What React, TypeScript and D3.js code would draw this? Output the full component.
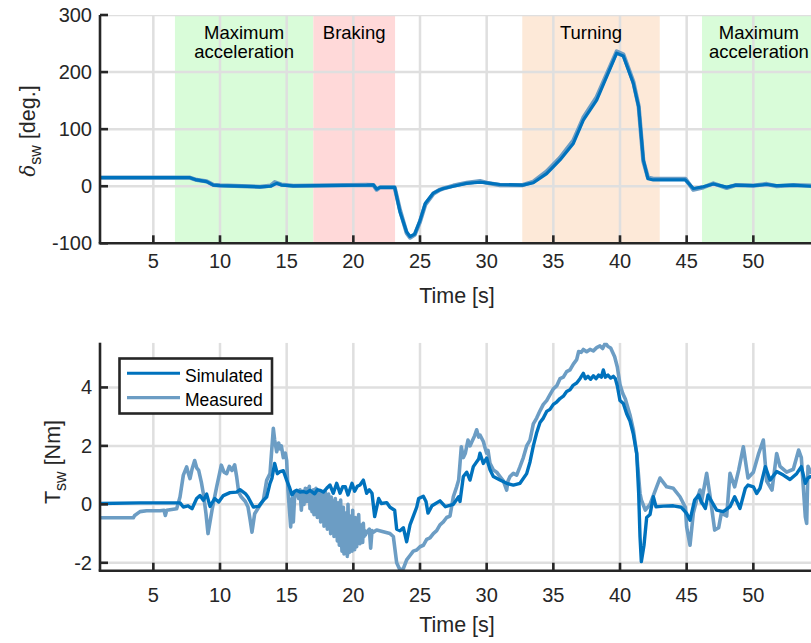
import React from 'react';
import * as d3 from 'd3';

// ---------- data ----------
const xTickValues = [5, 10, 15, 20, 25, 30, 35, 40, 45, 50];
const topYTickValues = [-100, 0, 100, 200, 300];
const botYTickValues = [-2, 0, 2, 4];

const phaseLabels = [['Maximum', 'acceleration'], ['Braking'], ['Turning'], ['Maximum', 'acceleration']];
const phaseStart = [6.62, 17.0, 32.67, 46.15];
const phaseEnd = [17.0, 23.13, 42.98, 54.7];

// Steering wheel angle [deg]
const angSimT = [1, 7.75, 8.25, 9, 9.5, 10, 13, 13.8, 14.25, 14.6, 15.5, 21, 21.5, 21.75, 22, 23.1, 23.5, 24, 24.25, 24.6, 25, 25.4, 26, 26.5, 26.75, 27.5, 28.5, 29.5, 30, 31, 32.7, 33.5, 34.5, 35.5, 36.5, 37.25, 38.25, 39, 39.75, 40.25, 41, 41.4, 41.75, 42.1, 42.5, 43.3, 44.9, 45.5, 46.25, 47, 48, 48.7, 50, 51, 51.75, 53, 54.3, 55];
const angSimV = [15, 15, 11, 8, 2, 1, -1, 0, 5, 2, 0.5, 2, 2.5, -5, -2, -2, -45, -80, -88, -84, -60, -30, -12, -6, -4, 0, 5, 7, 6, 3, 2, 6, 22, 46, 75, 116, 151, 192, 233, 228, 180, 139, 46, 13, 11, 11, 11, -4, -1, 4, -1.5, 2, 1, 3, 1, 2, 0, 0];
const angMeasT = [1, 7.75, 8.25, 9, 9.5, 10, 13, 13.8, 14.1, 14.6, 15.5, 21, 21.5, 21.75, 22, 23.1, 23.5, 24, 24.25, 24.6, 25, 25.4, 26, 26.5, 26.75, 27.5, 28.5, 29.5, 30, 31, 32.7, 33.5, 34.5, 35.5, 36.5, 37.25, 38.25, 39, 39.75, 40.25, 41, 41.4, 41.75, 42.1, 42.5, 43.3, 44.9, 45.5, 46.25, 47, 48, 48.7, 50, 51, 51.75, 53, 54.3, 55];
const angMeasV = [15, 15, 11, 8.5, 2.5, 1.5, -1, 1, 7, 3, 0.5, 2.5, 2, -6, -2, -2, -42, -82, -90, -85, -62, -32, -13, -6, -4, 1, 6, 9, 6, 2, 2, 8, 26, 50, 80, 120, 156, 196, 236, 231, 183, 140, 44, 15, 13, 13, 13, -6, -2, 5, -3, 2, 1, 4, 0, 2, 1, 1];

// Steering wheel torque [Nm] — simulated
const trqSimT = [1, 4, 7, 7.25, 7.6, 7.9, 8.25, 8.5, 8.75, 9, 9.25, 9.6, 9.9, 10.25, 10.75, 11.25, 11.5, 11.9, 12.1, 12.5, 12.9, 13.25, 13.5, 13.75, 13.9, 14.1, 14.3, 14.5, 14.75, 15, 15.2, 15.4, 15.6, 15.75, 16, 16.25, 16.5, 16.75, 17.1, 17.3, 17.5, 17.75, 18, 18.25, 18.5, 18.75, 19, 19.2, 19.4, 19.6, 19.9, 20.1, 20.3, 20.5, 20.75, 21, 21.2, 21.4, 21.6, 21.9, 22.1, 22.5, 22.75, 23.1, 23.25, 23.5, 23.75, 24, 24.25, 24.5, 24.75, 24.9, 25.25, 25.45, 25.6, 25.9, 26.5, 26.9, 27.5, 27.9, 28, 28.25, 28.5, 28.75, 29, 29.4, 29.5, 29.75, 30, 30.25, 30.5, 31, 31.5, 32, 32.5, 33, 33.25, 33.5, 33.75, 34, 34.25, 34.5, 34.75, 35, 35.25, 35.5, 35.75, 36, 36.25, 36.5, 36.75, 37, 37.25, 37.4, 37.6, 37.8, 38, 38.2, 38.4, 38.6, 38.75, 38.9, 39.1, 39.3, 39.5, 39.65, 39.8, 40, 40.25, 40.5, 40.75, 41, 41.25, 41.4, 41.5, 41.6, 41.8, 42, 42.25, 42.5, 42.7, 43.25, 44, 44.6, 45, 45.25, 45.6, 45.9, 46.1, 46.4, 46.6, 47.25, 47.75, 48.25, 48.6, 49, 49.4, 49.6, 50, 50.25, 50.5, 50.9, 51.25, 51.75, 52.25, 52.75, 53.25, 53.6, 53.9, 54.1, 54.3, 55];
const trqSimV = [0.03, 0.05, 0.05, -0.09, -0.05, -0.15, 0.2, 0.3, 0.14, 0.35, -0.07, 0.2, 0.08, 0.3, 0.4, 0.42, 0.5, 0.37, 0.25, -0.09, -0.07, 0.14, 0.25, 0.72, 0.9, 1.4, 1.05, 1.12, 1.15, 0.83, 0.6, 0.32, 0.45, 0.48, 0.42, 0.44, 0.4, 0.48, 0.36, 0.5, 0.48, 0.42, 0.55, 0.66, 0.38, 0.72, 0.38, 0.6, 0.6, 0.32, 0.72, 0.45, 0.62, 0.66, 0.83, 0.38, 0.5, 0.38, -0.42, 0.2, 0.03, 0.06, -0.1, -0.2, -0.85, -0.9, -0.8, -1.28, -0.7, -0.4, -0.1, 0.2, 0.28, 0.1, -0.3, -0.05, 0.12, -0.08, 0, 0.26, 0.1, 0.95, 1.1, 0.83, 1.29, 1.55, 1.75, 1.4, 1.58, 1.18, 0.95, 0.83, 0.72, 0.66, 0.72, 1.05, 1.45, 2.0, 2.45, 2.8, 2.95, 3.18, 3.25, 3.42, 3.5, 3.62, 3.7, 3.86, 3.92, 4.08, 4.15, 4.3, 4.48, 4.3, 4.38, 4.28, 4.4, 4.3, 4.42, 4.35, 4.6, 4.35, 4.42, 4.32, 4.38, 4.3, 4.05, 3.55, 3.45, 3.1, 2.85, 2.4, 1.75, 0.38, -1.1, -1.96, -1.4, -0.45, -0.35, 0.26, -0.08, -0.06, -0.05, -0.1, -0.31, -0.54, 0.15, 0.32, 0.09, -0.14, 0.32, -0.2, -0.25, -0.08, 0.26, -0.14, 0.55, 0.66, 0.6, 0.37, 0.55, 1.29, 0.83, 1.12, 1.0, 0.85, 1.05, 1.29, 0.72, 0.9, 0.95, 1.0];

// Steering wheel torque [Nm] — measured
const trqMeasT = [1, 3.5, 3.6, 4, 4.5, 5, 5.5, 5.8, 5.9, 6.0, 6.75, 7, 7.25, 7.5, 7.6, 7.75, 7.9, 8.1, 8.25, 8.4, 8.6, 8.75, 8.95, 9.1, 9.25, 9.4, 9.75, 10.1, 10.3, 10.5, 10.7, 10.9, 11.1, 11.25, 11.4, 11.6, 11.9, 12.1, 12.25, 12.4, 12.6, 12.9, 13.25, 13.5, 13.75, 14, 14.1, 14.25, 14.4, 14.5, 14.6, 14.75, 14.9, 15, 15.1, 15.3, 15.4, 15.5, 15.6, 15.75, 15.9, 16.0, 16.1, 16.2, 16.3, 16.4, 16.5,
  16.6, 16.65, 16.7, 16.75, 16.8, 16.85, 16.9, 16.95,
  17.0, 17.05, 17.1, 17.15, 17.2, 17.25, 17.3, 17.35, 17.4, 17.45, 17.5, 17.55, 17.6, 17.65, 17.7, 17.75, 17.8, 17.85, 17.9, 17.95,
  18.0, 18.05, 18.1, 18.15, 18.2, 18.25, 18.3, 18.35, 18.4, 18.45, 18.5, 18.55, 18.6, 18.65, 18.7, 18.75, 18.8, 18.85, 18.9, 18.95,
  19.0, 19.05, 19.1, 19.15, 19.2, 19.25, 19.3, 19.35, 19.4, 19.45, 19.5, 19.55, 19.6, 19.65, 19.7, 19.75, 19.8, 19.85, 19.9, 19.95,
  20.0, 20.05, 20.1, 20.15, 20.2, 20.25, 20.3, 20.35, 20.4, 20.45, 20.5, 20.55, 20.6, 20.65, 20.7, 20.75, 20.8, 20.85, 20.9,
  21.0, 21.2, 21.3, 21.4, 21.5, 21.75, 22.25, 22.75, 23, 23.25, 23.5, 23.75, 24, 24.25, 24.5, 24.75, 25, 25.25, 25.5, 25.75, 26, 26.25, 26.5, 26.75, 27, 27.25, 27.5, 27.75, 27.9, 28.1, 28.25, 28.4, 28.6, 28.75, 28.9, 29.1, 29.25, 29.4, 29.5, 29.75, 29.9, 30, 30.1, 30.25, 30.5, 30.75, 31, 31.25, 31.5, 31.6, 31.75, 32, 32.25, 32.5, 32.75, 33, 33.25, 33.5, 33.75, 34, 34.25, 34.5, 34.75, 35, 35.25, 35.5, 35.75, 36, 36.25, 36.5, 36.75, 36.9, 37.1, 37.25, 37.5, 37.75, 38, 38.25, 38.5, 38.7, 38.9, 39.1, 39.3, 39.6, 39.8, 40, 40.2, 40.4, 40.75, 41, 41.25, 41.5, 41.6, 41.9, 42.25, 42.75, 43, 43.5, 44, 44.5, 44.9, 45, 45.25, 45.5, 45.75, 46, 46.1, 46.5, 46.75, 47.1, 47.4, 47.6, 48, 48.25, 48.6, 48.9, 49.25, 49.6, 50, 50.4, 50.75, 51, 51.4, 51.75, 52, 52.5, 53, 53.4, 53.6, 53.9, 54, 54.1, 54.3, 55];
const trqMeasV = [-0.46, -0.46, -0.38, -0.25, -0.22, -0.22, -0.22, -0.2, -0.38, -0.2, -0.15, 0.25, 1.0, 1.28, 1.1, 0.88, 1.2, 1.5, 1.25, 1.16, 0.76, 0.37, -0.32, -1.0, -0.6, -0.2, 0.6, 1.34, 1.1, 1.05, 1.3, 1.16, 1.35, 0.94, 0.42, 0.25, 0.1, -0.09, -0.5, -0.95, -0.32, -0.1, 0.14, 0.82, 1.05, 2.6, 2.2, 1.8, 2.1, 1.9, 2.0, 1.6, 1.75, 1.5, 0.49, -0.77, 0.2, -0.6, 0.3, 0.45, 0.2, 0.5, -0.2, 0.45, 0.0, 0.55, 0.1,
  0.55, 0.1, 0.62, -0.15, 0.3, 0.45, -0.25, 0.2,
  0.5, -0.35, 0.35, 0.1, 0.55, -0.1, -0.45, 0.25, 0.45, -0.2, 0.05, -0.6, 0.4, 0.1, -0.3, 0.35, -0.75, -0.1, 0.45, -0.5,
  0.2, -0.85, 0.0, 0.35, -0.6, -0.2, -1.0, 0.25, -0.4, -0.85, 0.1, -1.1, -0.3, 0.2, -0.95, -0.5, -1.25, 0.05, -0.7, -1.4,
  -0.2, 0.15, -1.1, -1.6, -0.5, -0.1, -1.7, -1.0, -0.3, -1.5, -0.8, -1.78, 0.0, -1.2, -1.65, -0.4, -1.45, -0.9, -1.6, -0.2,
  -1.3, -0.7, -1.55, -0.45, -1.1, -1.45, -0.6, -1.25, -0.35, -1.05, -1.35, -0.7, -1.2, -0.9, -1.3, -0.65, -1.1, -0.9, -1.05,
  -0.95, -0.85, -1.5, -0.9, -0.95, -0.88, -0.94, -1.0, -1.1, -2.0, -2.25, -2.2, -1.9, -1.75, -1.6, -1.56, -1.45, -1.4, -1.2, -1.15, -1.0, -0.9, -0.7, -0.6, -0.45, -0.4, 0.26, 0.6, 0.83, 1.97, 1.6, 1.75, 2.2, 2.0, 2.15, 2.35, 2.55, 2.3, 2.37, 2.15, 1.9, 1.75, 1.85, 1.4, 1.18, 1.1, 0.95, 0.8, 0.49, 0.8, 0.95, 1.06, 1.0, 1.29, 1.6, 2.0, 2.2, 2.75, 2.95, 3.2, 3.42, 3.55, 3.75, 3.95, 4.05, 4.3, 4.35, 4.54, 4.6, 4.8, 4.95, 5.23, 5.2, 5.3, 5.22, 5.3, 5.25, 5.36, 5.42, 5.33, 5.52, 5.4, 5.35, 5.05, 4.7, 4.1, 3.8, 3.6, 3.06, 2.55, 1.75, 0.38, 0.15, -0.2, 0.0, 0.6, 0.9, 0.6, 0.55, 0.26, -0.1, -0.77, -1.4, -0.3, 0.15, 0.49, 0.05, 1.06, 0.3, -0.88, -0.8, -0.3, -0.4, 1.06, 0.6, 1.17, 1.97, 0.9, 1.1, 1.74, 2.2, 0.8, 0.49, 1.74, 1.3, 1.1, 1.2, 1.86, 1.6, -0.43, -0.65, 1.3, 1.1, 1.2];

// ---------- styles ----------
const FONT = '"Liberation Sans", Arial, Helvetica, sans-serif';
const AXIS = '#262626';
const GRID = '#dfdfdf';
const SIM = '#0072BD';
const MEAS = '#6c9dc4';
const PHASE_FILL = ['#d9fcd9', '#ffd9d9', '#fde9d8', '#d9fcd9'];

const X0 = 100, X1 = 820;

function Panel(props: {
  top: number; bottom: number; yDomain: [number, number]; yTicks: number[];
  simT: number[]; simV: number[]; measT: number[]; measV: number[];
  id: string; phases: boolean; labelNode: React.ReactNode; tickBaseline: number; timeBaseline: number;
  simWidth: number; measWidth: number;
}) {
  const { top, bottom, yDomain, yTicks, simT, simV, measT, measV, id, phases } = props;
  const x = d3.scaleLinear().domain([1, 55]).range([X0, X1]);
  const y = d3.scaleLinear().domain(yDomain).range([bottom, top]);
  const line = d3.line<[number, number]>().x(d => x(d[0])).y(d => y(d[1]));
  const sim = line(simT.map((t, i) => [t, simV[i]] as [number, number])) || '';
  const meas = line(measT.map((t, i) => [t, measV[i]] as [number, number])) || '';
  return (
    <g>
      <defs>
        <clipPath id={id}>
          <rect x={X0} y={top} width={X1 - X0} height={bottom - top} />
        </clipPath>
      </defs>
      <g clipPath={`url(#${id})`}>
        {phases && phaseStart.map((s, i) => (
          <rect key={i} x={x(s)} y={top} width={x(phaseEnd[i]) - x(s)} height={bottom - top} fill={PHASE_FILL[i]} />
        ))}
        {xTickValues.map(t => (
          <line key={'gx' + t} x1={x(t)} x2={x(t)} y1={top} y2={bottom} stroke={GRID} strokeWidth={2.5} />
        ))}
        {yTicks.map(v => (
          <line key={'gy' + v} x1={X0} x2={X1} y1={y(v)} y2={y(v)} stroke={GRID} strokeWidth={2.5} />
        ))}
        <path d={meas} fill="none" stroke={MEAS} strokeWidth={props.measWidth} strokeLinejoin="round" />
        <path d={sim} fill="none" stroke={SIM} strokeWidth={props.simWidth} strokeLinejoin="round" />
        {phases && phaseLabels.map((lbl, i) => {
          const cx = i === 3 ? x(50.42) : (x(phaseStart[i]) + x(phaseEnd[i])) / 2;
          return (
            <text key={'pl' + i} x={cx} y={top + 24} textAnchor="middle" fontFamily={FONT} fontSize={18.5} fill="#000">
              {lbl.map((s, j) => (
                <tspan key={j} x={cx} dy={j === 0 ? 0 : 19}>{s}</tspan>
              ))}
            </text>
          );
        })}
      </g>
      {/* axes */}
      <line x1={X0} x2={X0} y1={top} y2={bottom} stroke={AXIS} strokeWidth={2.6} />
      <line x1={X0 - 1.3} x2={X1} y1={bottom} y2={bottom} stroke={AXIS} strokeWidth={2.6} />
      {xTickValues.map(t => (
        <g key={'tx' + t}>
          <line x1={x(t)} x2={x(t)} y1={bottom} y2={bottom - 8} stroke={AXIS} strokeWidth={2.6} />
          <text x={x(t)} y={props.tickBaseline} textAnchor="middle" fontFamily={FONT} fontSize={20} fill={AXIS}>{t}</text>
        </g>
      ))}
      {yTicks.map(v => (
        <g key={'ty' + v}>
          <line x1={X0} x2={X0 + 8} y1={y(v)} y2={y(v)} stroke={AXIS} strokeWidth={2.6} />
          <text x={X0 - 8} y={y(v) + 7} textAnchor="end" fontFamily={FONT} fontSize={20} fill={AXIS}>{v}</text>
        </g>
      ))}
      <text x={457} y={props.timeBaseline} textAnchor="middle" fontFamily={FONT} fontSize={21.5} fill={AXIS}>Time [s]</text>
      {props.labelNode}
    </g>
  );
}

export default function App() {
  const topLabel = (
    <text transform="translate(35,131) rotate(-90)" textAnchor="middle" fontFamily={FONT} fontSize={21.5} fill={AXIS}>
      <tspan fontFamily='"DejaVu Serif", "Liberation Serif", serif' fontStyle="italic" fontSize={20}>δ</tspan>
      <tspan fontSize={16} dy={6}>sw</tspan>
      <tspan dy={-6}> [deg.]</tspan>
    </text>
  );
  const botLabel = (
    <text transform="translate(60,462) rotate(-90)" textAnchor="middle" fontFamily={FONT} fontSize={21.5} fill={AXIS}>
      <tspan>T</tspan>
      <tspan fontSize={16} dy={6}>sw</tspan>
      <tspan dy={-6}> [Nm]</tspan>
    </text>
  );
  return (
    <svg width={811} height={643} style={{ position: 'absolute', left: 0, top: 0, background: '#fff' }}>
      <rect x={0} y={0} width={811} height={643} fill="#fff" />
      <Panel top={15} bottom={243.3} yDomain={[-100, 300]} yTicks={topYTickValues}
        simT={angSimT} simV={angSimV} measT={angMeasT} measV={angMeasV}
        id="clipTop" phases={true} labelNode={topLabel} tickBaseline={268} timeBaseline={303}
        simWidth={3.2} measWidth={4.2} />
      <Panel top={342.7} bottom={570.7} yDomain={[-2.27, 5.53]} yTicks={botYTickValues}
        simT={trqSimT} simV={trqSimV} measT={trqMeasT} measV={trqMeasV}
        id="clipBot" phases={false} labelNode={botLabel} tickBaseline={602} timeBaseline={632}
        simWidth={3.4} measWidth={3.6} />
      {/* legend */}
      <g>
        <rect x={119.5} y={358.5} width={152.5} height={55} fill="#fff" stroke={AXIS} strokeWidth={2.6} />
        <line x1={127} x2={180} y1={373.3} y2={373.3} stroke={SIM} strokeWidth={3} />
        <text x={185} y={381.5} fontFamily={FONT} fontSize={17.5} fill="#000">Simulated</text>
        <line x1={127} x2={180} y1={397.7} y2={397.7} stroke={MEAS} strokeWidth={3.2} />
        <text x={185} y={405.5} fontFamily={FONT} fontSize={17.5} fill="#000">Measured</text>
      </g>
    </svg>
  );
}
